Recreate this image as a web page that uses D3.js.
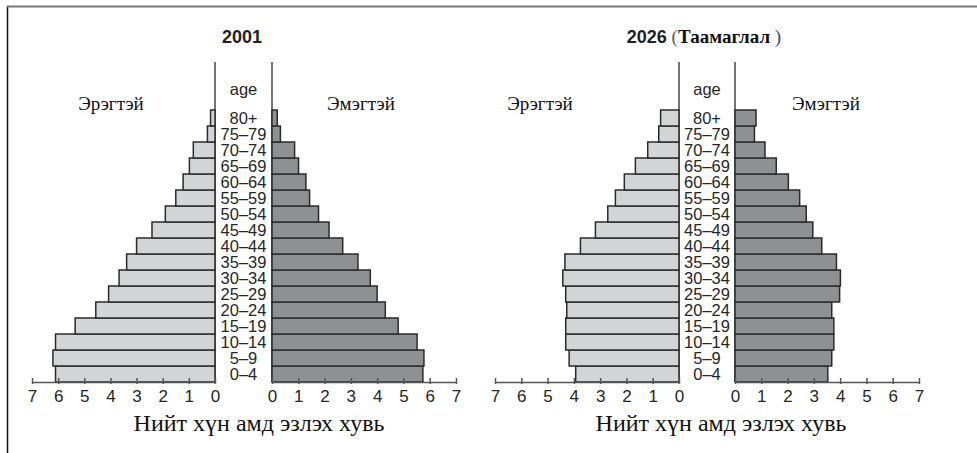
<!DOCTYPE html>
<html><head><meta charset="utf-8">
<script src="https://cdn.jsdelivr.net/npm/d3@7"></script>
<style>body{margin:0;background:#fff}svg{display:block}</style>
</head><body>
<svg id="c" width="977" height="453"></svg>
<script>
const ageGroups = ["0–4","5–9","10–14","15–19","20–24","25–29","30–34","35–39","40–44","45–49","50–54","55–59","60–64","65–69","70–74","75–79","80+"];
const male2001   = [6.1,6.2,6.1,5.35,4.56,4.07,3.67,3.38,3.0,2.41,1.9,1.5,1.22,0.98,0.83,0.29,0.17];
const female2001 = [5.74,5.78,5.52,4.8,4.31,4.0,3.74,3.27,2.69,2.17,1.77,1.43,1.29,1.01,0.86,0.32,0.2];
const male2026   = [3.93,4.18,4.31,4.31,4.27,4.31,4.42,4.34,3.75,3.18,2.71,2.42,2.08,1.66,1.19,0.77,0.7];
const female2026 = [3.53,3.68,3.76,3.76,3.68,3.98,4.01,3.86,3.3,2.96,2.71,2.46,2.03,1.57,1.14,0.74,0.8];
const tickValues = [0,1,2,3,4,5,6,7];
const maleLabel = "Эрэгтэй", femaleLabel = "Эмэгтэй";
const xLabel = "Нийт хүн амд эзлэх хувь";
const ageTitle = "age";

const svg = d3.select("#c");
// frame
svg.append("line").attr("x1",7.5).attr("x2",7.5).attr("y1",6).attr("y2",453).attr("stroke","#111").attr("stroke-width",1.5);
svg.append("line").attr("x1",7).attr("x2",977).attr("y1",6.5).attr("y2",6.5).attr("stroke","#777").attr("stroke-width",2);

const sans = "'Liberation Sans', Arial, sans-serif";
const serif = "'Liberation Serif', 'Times New Roman', serif";

function pyramid(cfg, male, female){
  const g = svg.append("g");
  const axisY = 382, topY = 110;
  const y = d3.scaleBand().domain(ageGroups.slice().reverse()).range([topY, axisY]).padding(0);
  const xm = d3.scaleLinear().domain([0,7]).range([cfg.m0, cfg.m7]);
  const xf = d3.scaleLinear().domain([0,7]).range([cfg.f0, cfg.f7]);

  [cfg.m0, cfg.f0].forEach(x=>{
    g.append("line").attr("x1",x).attr("x2",x).attr("y1",62).attr("y2",axisY)
      .attr("stroke","#444").attr("stroke-width",1.5);
  });

  g.selectAll(".m").data(male).join("rect")
    .attr("x",d=>xm(d)).attr("width",d=>xm(0)-xm(d))
    .attr("y",(d,i)=>y(ageGroups[i])).attr("height",y.bandwidth())
    .attr("fill","#d3d4d6").attr("stroke","#2b2b2b").attr("stroke-width",1.5);
  g.selectAll(".f").data(female).join("rect")
    .attr("x",xf(0)).attr("width",d=>xf(d)-xf(0))
    .attr("y",(d,i)=>y(ageGroups[i])).attr("height",y.bandwidth())
    .attr("fill","#8f9092").attr("stroke","#2b2b2b").attr("stroke-width",1.5);

  const cx = (cfg.m0+cfg.f0)/2;
  g.selectAll(".age").data(ageGroups).join("text")
    .attr("x",cx).attr("y",d=>y(d)+y.bandwidth()/2+6)
    .attr("text-anchor","middle").attr("font-family",sans).attr("font-size",16.5)
    .attr("fill","#262626").text(d=>d);
  g.append("text").attr("x",cx).attr("y",95).attr("text-anchor","middle")
    .attr("font-family",sans).attr("font-size",16.5).attr("fill","#262626").text(ageTitle);

  const axM = d3.axisBottom(xm).tickValues(tickValues).tickSize(-4).tickSizeOuter(0).tickPadding(8).tickFormat(d3.format("d"));
  const axF = d3.axisBottom(xf).tickValues(tickValues).tickSize(-4).tickSizeOuter(0).tickPadding(8).tickFormat(d3.format("d"));
  [axM, axF].forEach(ax=>{
    const a = g.append("g").attr("transform",`translate(0,${axisY})`).call(ax);
    a.select(".domain").attr("stroke","#555").attr("stroke-width",1.5);
    a.selectAll(".tick line").attr("stroke","#555").attr("stroke-width",1.5).attr("y1",2);
    a.selectAll(".tick text").attr("font-family",sans).attr("font-size",17).attr("fill","#262626");
  });

  g.append("text").attr("x",cfg.maleLblX).attr("y",110).attr("text-anchor","middle")
    .attr("font-family",serif).attr("font-size",19).attr("fill","#111").text(maleLabel);
  g.append("text").attr("x",cfg.femLblX).attr("y",110).attr("text-anchor","middle")
    .attr("font-family",serif).attr("font-size",19).attr("fill","#111").text(femaleLabel);

  g.append("text").attr("x",cfg.xLblX).attr("y",431).attr("text-anchor","middle")
    .attr("font-family",serif).attr("font-size",24).attr("fill","#111").text(xLabel);

  const t = g.append("text").attr("x",cfg.titleX).attr("y",43).attr("text-anchor","middle");
  t.append("tspan").attr("font-family",sans).attr("font-weight","bold").attr("font-size",18).attr("fill","#222").text(cfg.year);
  if(cfg.note){
    t.append("tspan").attr("font-family",serif).attr("font-size",19).attr("fill","#6b5a48").text(" (");
    t.append("tspan").attr("font-family",serif).attr("font-size",19).attr("font-weight","bold").attr("fill","#111").text(cfg.note);
    t.append("tspan").attr("font-family",serif).attr("font-size",19).attr("fill","#3a4a6a").text(" )");
  }
}

pyramid({m0:215,m7:32,f0:272,f7:456,maleLblX:111,femLblX:361,xLblX:259,titleX:242,year:"2001"}, male2001, female2001);
pyramid({m0:679,m7:495,f0:735,f7:919,maleLblX:540,femLblX:826,xLblX:721,titleX:704,year:"2026",note:"Таамаглал"}, male2026, female2026);
</script>
</body></html>
